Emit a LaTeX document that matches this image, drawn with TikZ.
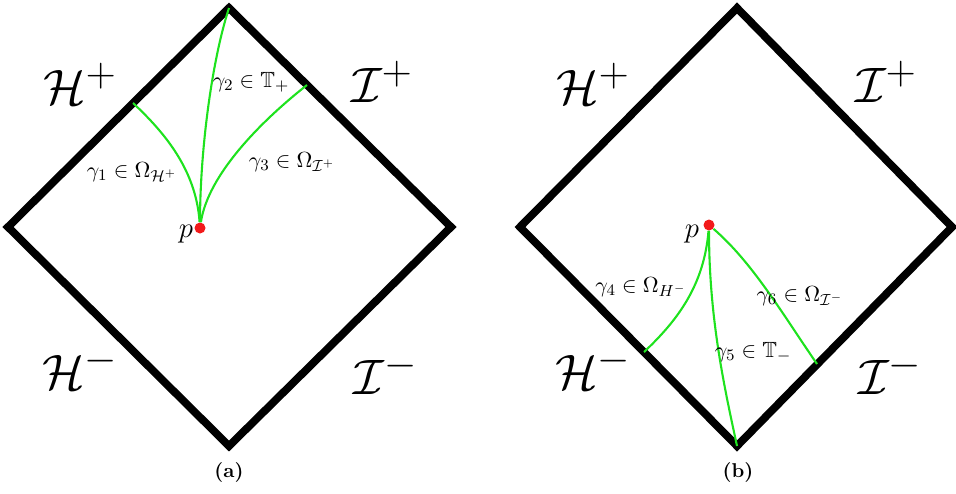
\documentclass[tikz,border=0pt]{standalone}
\usepackage{amsmath,amssymb}
\usepackage{tikz}
\usetikzlibrary{positioning}
\definecolor{geoGreen}{HTML}{1EE21E}
\definecolor{pointRed}{HTML}{F21A1A}

\begin{document}
\begin{tikzpicture}[x=0.5pt, y=-0.5pt,
  wall/.style={line width=3.9pt, line join=miter},
  geo/.style={geoGreen, line width=1.05pt},
  scri/.style={font=\fontsize{30}{36}\selectfont, inner sep=0pt},
  lab/.style={font=\fontsize{11}{13}\selectfont, inner sep=1pt},
  pt/.style={circle, fill=pointRed, inner sep=0pt, minimum size=5.5pt},
  plab/.style={font=\Large, inner sep=0pt},
  subcap/.style={font=\normalsize\bfseries, inner sep=0pt}
]
\useasboundingbox (0,0) rectangle (956,493);
% (a)
\coordinate (aT) at (229,8);
\coordinate (aR) at (451,227);
\coordinate (aB) at (229,446);
\coordinate (aL) at (8,227);
\coordinate (a1) at (133,103);
\coordinate (a3) at (307,85);
\draw[wall] (aT) -- (aR) -- (aB) -- (aL) -- cycle;
\node[pt] (pa) at (200,228) {};
\draw[geo] (pa) .. controls (196,170) and (165,133) .. (a1);
\draw[geo] (pa) .. controls (200,150) and (212,60) .. (aT);
\draw[geo] (pa) .. controls (208,175) and (260,122) .. (a3);
\node[plab] (pLa) at (186,234) {$p$};
\node[lab] (g1) at (132,172) {$\gamma_1 \in \Omega_{\mathcal{H}^+}$};
\node[lab] (g2) at (251,82) {$\gamma_2 \in \mathbb{T}_+$};
\node[lab] (g3) at (292,162) {$\gamma_3 \in \Omega_{\mathcal{I}^+}$};
\node[scri] (Hpa) at (80,84) {$\mathcal{H}^+$};
\node[scri] (Ipa) at (382,82) {$\mathcal{I}^+$};
\node[scri] (Hma) at (80,368) {$\mathcal{H}^-$};
\node[scri] (Ima) at (386,373) {$\mathcal{I}^-$};
\node[subcap] (capa) at (229,472) {(a)};
% (b)
\coordinate (bT) at (737,8);
\coordinate (bR) at (952,227);
\coordinate (bB) at (737,446);
\coordinate (bL) at (520,227);
\coordinate (b4) at (644,352);
\coordinate (b6) at (817,364);
\draw[wall] (bT) -- (bR) -- (bB) -- (bL) -- cycle;
\node[pt] (pb) at (709,225) {};
\draw[geo] (pb) .. controls (704,285) and (678,320) .. (b4);
\draw[geo] (pb) .. controls (709,320) and (725,390) .. (bB);
\draw[geo] (pb) .. controls (752,262) and (782,313) .. (b6);
\node[plab] (pLb) at (692,234) {$p$};
\node[lab] (g4) at (641,287) {$\gamma_4 \in \Omega_{H^-}$};
\node[lab] (g5) at (753,352) {$\gamma_5 \in \mathbb{T}_-$};
\node[lab] (g6) at (800,296) {$\gamma_6 \in \Omega_{\mathcal{I}^-}$};
\node[scri] (Hpb) at (593,84) {$\mathcal{H}^+$};
\node[scri] (Ipb) at (886,82) {$\mathcal{I}^+$};
\node[scri] (Hmb) at (593,368) {$\mathcal{H}^-$};
\node[scri] (Imb) at (890,373) {$\mathcal{I}^-$};
\node[subcap] (capb) at (738,472) {(b)};
\end{tikzpicture}
\end{document}
